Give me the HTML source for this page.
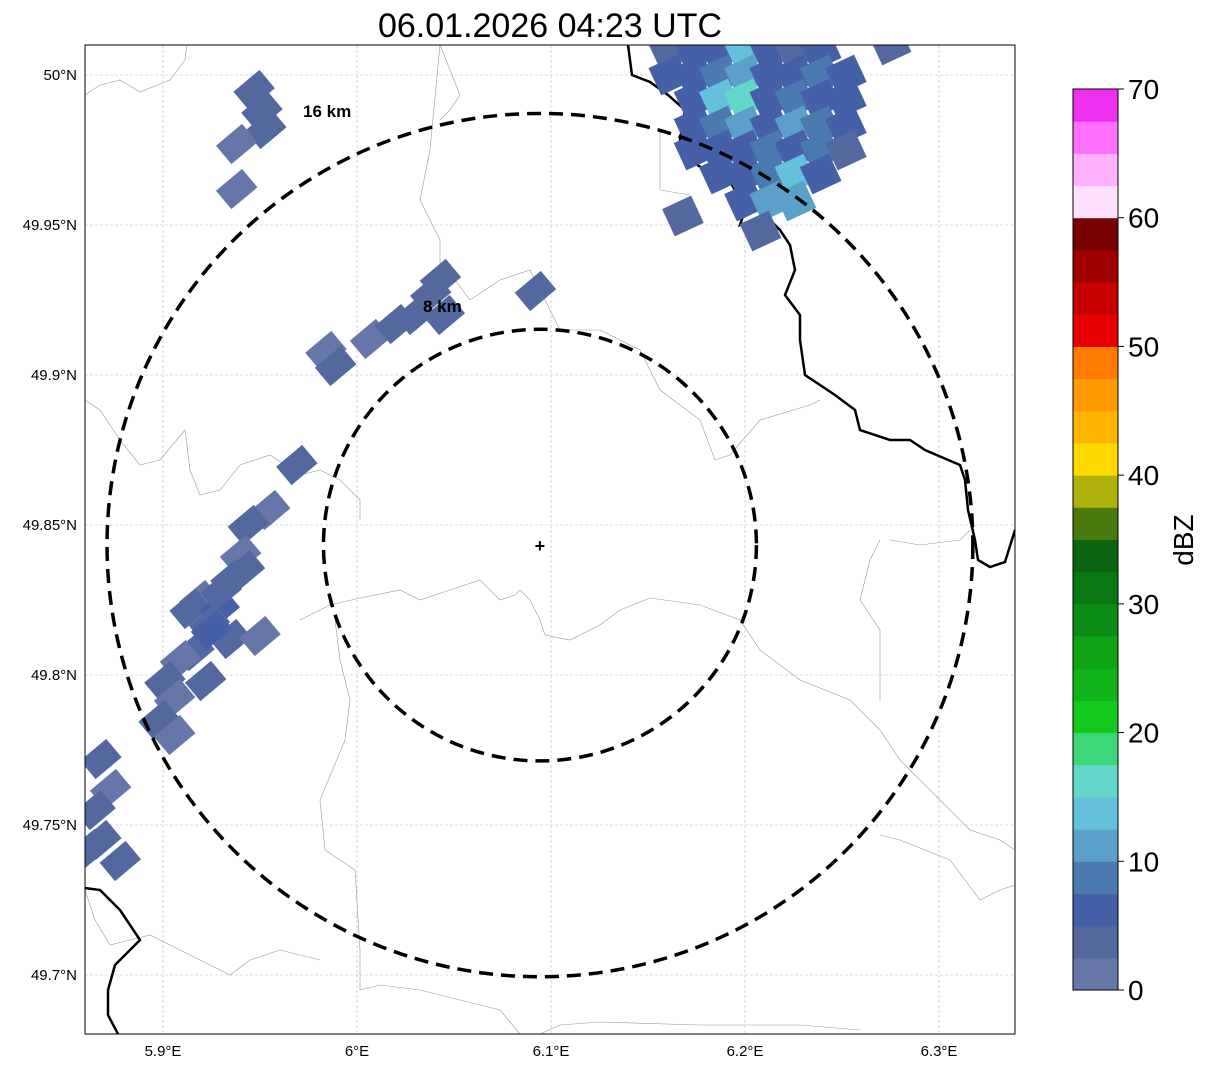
<!DOCTYPE html>
<html><head><meta charset="utf-8"><style>
body{margin:0;background:#fff;font-family:"Liberation Sans",sans-serif}
svg text{font-family:"Liberation Sans",sans-serif}
</style></head><body>
<svg id="chart" width="1207" height="1069" xmlns="http://www.w3.org/2000/svg">
<defs><clipPath id="mapclip"><rect x="85" y="45" width="930" height="989"/></clipPath></defs>
<text x="550" y="37" font-size="34" text-anchor="middle">06.01.2026 04:23 UTC</text>
<rect x="85" y="45" width="930" height="989" fill="#fff"/>
<g id="grid" clip-path="url(#mapclip)"></g>
<g id="borders" clip-path="url(#mapclip)" fill="none"></g>
<g id="cells" clip-path="url(#mapclip)"></g>
<g id="overlay" clip-path="url(#mapclip)"></g>
<rect x="85" y="45" width="930" height="989" fill="none" stroke="#000" stroke-width="1"/>
<g id="ticks"></g>
<g id="colorbar"></g>
</svg>
<script>
const lonTicks=[5.9,6.0,6.1,6.2,6.3];
const lonLabels=["5.9°E","6°E","6.1°E","6.2°E","6.3°E"];
const latTicks=[50.0,49.95,49.9,49.85,49.8,49.75,49.7];
const latLabels=["50°N","49.95°N","49.9°N","49.85°N","49.8°N","49.75°N","49.7°N"];
// north-east storm cells
const neLon=[6.161,6.174,6.187,6.200,6.213,6.226,6.239,
6.161,6.174,6.187,6.200,6.213,6.226,6.239,6.252,
6.174,6.187,6.200,6.213,6.226,6.239,6.252,
6.174,6.187,6.200,6.213,6.226,6.239,6.252,
6.174,6.187,6.200,6.213,6.226,6.239,6.252,
6.187,6.200,6.213,6.226,6.239,
6.200,6.213,6.226,6.275,6.168,6.208];
const neLat=[50.008,50.008,50.008,50.008,50.008,50.008,50.008,
50.000,50.000,50.000,50.000,50.000,50.000,50.000,50.000,
49.992,49.992,49.992,49.992,49.992,49.992,49.992,
49.983,49.983,49.983,49.983,49.983,49.983,49.983,
49.975,49.975,49.975,49.975,49.975,49.975,49.975,
49.967,49.967,49.967,49.967,49.967,
49.958,49.958,49.958,50.010,49.953,49.948];
const neDbz=[4,5,6,13,5,4,6,
5,6,9,12,6,5,8,5,
6,13,15,7,8,6,7,
5,8,10,7,12,9,5,
6,7,5,9,6,8,4,
6,5,9,13,7,
6,10,12,4,4,4];
// western band cells
const wLon=[5.951,5.947,5.953,5.938,5.938,6.043,6.038,6.045,6.092,5.984,5.989,6.007,6.020,6.030,5.969,5.955,5.944,5.940,5.935,5.942,5.919,5.914,5.929,5.924,5.935,5.916,5.909,5.901,5.906,5.898,5.906,5.922,5.950,5.868,5.873,5.865,5.868,5.878,5.862,5.930,5.925];
const wLat=[49.988,49.995,49.982,49.977,49.962,49.932,49.927,49.920,49.928,49.908,49.903,49.912,49.917,49.920,49.870,49.855,49.850,49.840,49.832,49.835,49.825,49.822,49.822,49.817,49.812,49.808,49.805,49.798,49.792,49.785,49.780,49.798,49.813,49.772,49.762,49.755,49.745,49.738,49.742,49.828,49.815];
const wDbz=[4,3,4,2,2,3,4,3,3,2,4,2,3,4,3,2,3,2,4,3,2,4,5,3,4,3,2,3,2,3,2,3,2,3,2,3,4,3,4,3,6];
const cbBounds=[0,2.5,5,7.5,10,12.5,15,17.5,20,22.5,25,27.5,30,32.5,35,37.5,40,42.5,45,47.5,50,52.5,55,57.5,60,62.5,65,67.5,70];
const cbColors=["#6577a8","#5468a0","#4660a8","#4a7ab0","#5aa0c8","#64c0dc","#64d8c8","#3cd878","#14c81e","#10b41a","#0ea416","#0c8c14","#0a7812","#0a6410","#4a7a0c","#b0b00a","#ffd800","#ffb400","#ff9a00","#ff7c00","#e60000","#c80000","#a00000","#780000","#ffe0ff","#ffb0ff","#ff70ff","#f030f0"];
const cbTicks=[0,10,20,30,40,50,60,70];
const rings=[16,8];
const centerLon=6.0943, centerLat=49.8433;
const NS="http://www.w3.org/2000/svg";
const X=lon=>163+(lon-5.9)*1940;
const Y=lat=>75+(50-lat)*3000;
const kmX=194/7.17, kmY=150/5.56;
function mk(t,a,p){const e=document.createElementNS(NS,t);for(const k in a)e.setAttribute(k,a[k]);p.appendChild(e);return e;}
const grid=document.getElementById('grid'),ticks=document.getElementById('ticks');
lonTicks.forEach((v,i)=>{
 const l=mk('line',{x1:X(v),x2:X(v),y1:45,y2:1034,stroke:'#bbb','stroke-width':0.6,'stroke-dasharray':'3,2'},grid);
 
 const t=mk('text',{x:X(v),y:1056,'font-size':15,'text-anchor':'middle'},ticks);t.textContent=lonLabels[i];
 
});
latTicks.forEach((v,i)=>{
 const l=mk('line',{x1:85,x2:1015,y1:Y(v),y2:Y(v),stroke:'#bbb','stroke-width':0.6,'stroke-dasharray':'3,2'},grid);
 
 const t=mk('text',{x:77,y:Y(v)+5,'font-size':15,'text-anchor':'end'},ticks);t.textContent=latLabels[i];
 
});
const bd=document.getElementById('borders');
const thin=[
"85,95 100,85 120,80 140,92 170,80 185,60 187,45",
"440,45 450,70 460,95 450,110 440,120",
"85,400 100,410 120,440 140,465 160,460 185,430 190,470 200,495 220,490 240,465 270,455 300,475 320,470",
"320,470 340,480 360,500 360,520",
"300,620 330,605 360,598 400,590 420,600 450,590 480,580 500,600 515,595 520,590 530,600 540,620 545,635 570,640 600,625 620,610 650,598 700,605 740,620 760,650 800,680 850,700 880,730 900,760 940,800 970,830 1000,840 1015,850",
"440,45 430,150 420,200 440,240 440,270 455,280 470,300 500,280 530,270 540,290 550,310 560,330 600,330 640,350 660,390 700,420 715,460 730,455 760,420 810,405 820,400",
"660,130 660,190 690,195",
"335,620 340,660 350,700 345,740 320,800 325,850 355,870 360,950 360,990 380,985 420,990 460,1000 500,1010 520,1034",
"880,540 870,560 860,600 880,630 880,700",
"85,890 95,920 110,945 150,935 180,950 210,965 230,975 250,960 280,950 320,960",
"540,1034 560,1025 600,1022 700,1025 800,1025 860,1030",
"880,835 900,840 950,860 980,900 1000,890 1015,885",
"890,540 920,545 960,540 970,530"];
thin.forEach(p=>{const e=mk('polyline',{points:p,stroke:'#999','stroke-width':0.6},bd);});
const thick=["628,45 632,75 650,82 668,95 685,110 680,140 690,160 705,170 720,165 735,190 745,210 740,225 765,215 780,230 790,245 795,270 785,295 800,315 800,340 805,375 820,385 835,395 855,410 860,430 890,440 910,440 925,450 960,465 965,480 968,510 975,540 978,560 990,567 1005,562 1015,530",
"85,888 100,890 120,910 140,940 115,965 108,990 108,1015 118,1034"];
thick.forEach(p=>{const e=mk('polyline',{points:p,stroke:'#000','stroke-width':2.5},bd);});
function color(v){for(let i=0;i<cbColors.length;i++){if(v<cbBounds[i+1])return cbColors[i];}return cbColors[cbColors.length-1];}
const cg=document.getElementById('cells');
function drawCells(lons,lats,dbz,w,h,rot){
 lons.forEach((lon,i)=>{
  const x=X(lon),y=Y(lats[i]);
  const r=mk('rect',{x:x-w/2,y:y-h/2,width:w,height:h,fill:color(dbz[i]),transform:`rotate(${rot} ${x} ${y})`},cg);
  
  
 });
}
drawCells(wLon,wLat,wDbz,34,24,-40);
drawCells(neLon,neLat,neDbz,32,30,-25);
const ov=document.getElementById('overlay');
rings.forEach(km=>{
 const e=mk('ellipse',{cx:X(centerLon),cy:Y(centerLat),rx:km*kmX,ry:km*kmY,fill:'none',stroke:'#000','stroke-width':3.5,'stroke-dasharray':'14,8'},ov);
 
});
const lbl=[[16,303,117],[8,423,312]];
lbl.forEach(a=>{const t=mk('text',{x:a[1],y:a[2],'font-size':17,'font-weight':'bold'},ov);t.textContent=a[0]+' km';});
const c=mk('text',{x:X(centerLon),y:Y(centerLat)+7,'font-size':18,'font-weight':'bold','text-anchor':'middle'},ov);c.textContent='+';

const cb=document.getElementById('colorbar');
const cbY=v=>990-(v/70)*901;
cbColors.forEach((col,i)=>{
 const r=mk('rect',{x:1073,y:cbY(cbBounds[i+1]),width:45,height:cbY(cbBounds[i])-cbY(cbBounds[i+1])+0.5,fill:col},cb);
 
});
mk('rect',{x:1073,y:89,width:45,height:901,fill:'none',stroke:'#000','stroke-width':1},cb);
cbTicks.forEach(v=>{
 mk('line',{x1:1118,x2:1124,y1:cbY(v),y2:cbY(v),stroke:'#000'},cb);
 const t=mk('text',{x:1128,y:cbY(v)+10,'font-size':28},cb);t.textContent=v;
 
});
const cl=mk('text',{x:1193,y:540,'font-size':28,'text-anchor':'middle',transform:'rotate(-90 1193 540)'},cb);cl.textContent='dBZ';

</script>
</body></html>
